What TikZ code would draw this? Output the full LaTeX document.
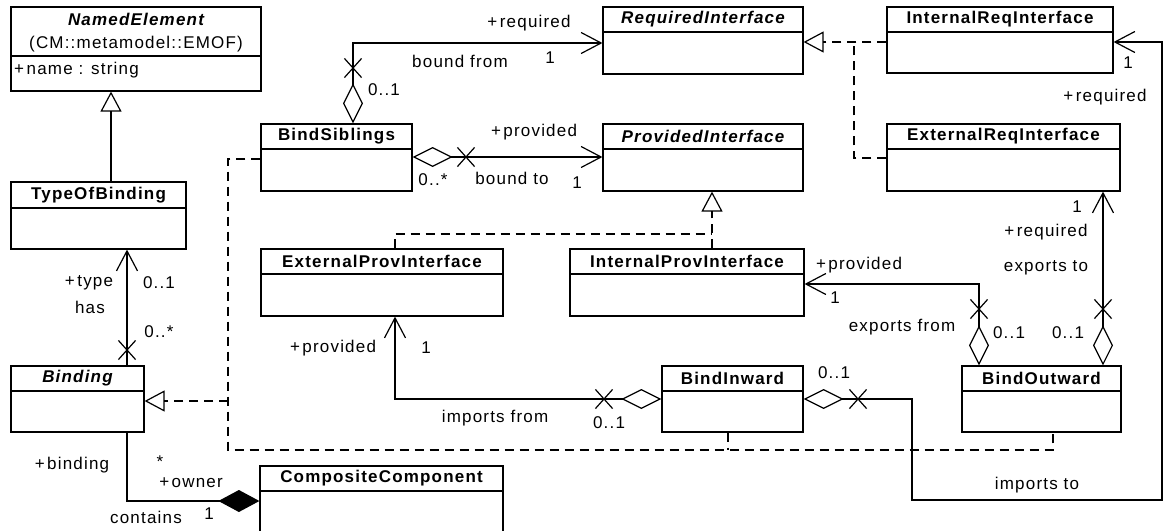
\documentclass[tikz,border=0pt]{standalone}
\usepackage{fontspec}
\setmainfont{Liberation Sans}
\newfontfamily\lblfont[LetterSpace=7]{Liberation Sans}
\usetikzlibrary{arrows.meta,fit,shapes.misc}
\tikzset{
  cls/.style={draw, line width=1.2pt, inner sep=0pt},
  lab/.style={font=\lblfont\fontsize{17}{20}\selectfont, inner sep=0pt},
  ttl/.style={font=\lblfont\bfseries\fontsize{17}{20}\selectfont, inner sep=0pt},
  ln/.style={line width=1.2pt},
  nav/.style={ln, -{Straight Barb[length=20pt,width=21pt]}},
  agg/.style={ln, {Diamond[open,length=40pt,width=20pt]}-{Straight Barb[length=20pt,width=21pt]}},
  comp/.style={ln, -{Diamond[length=41pt,width=22pt]}},
  gen/.style={ln, -{Triangle[open,length=20pt,width=21pt]}},
  dsh/.style={ln, dash pattern=on 9pt off 6pt},
  real/.style={dsh, -{Triangle[open,length=20pt,width=21pt]}},
  xm/.style={cross out, draw, line width=1.2pt, minimum width=16pt, minimum height=18pt, inner sep=0pt},
  xmh/.style={cross out, draw, line width=1.2pt, minimum width=16pt, minimum height=18pt, inner sep=0pt},
}
\newcommand\umlbox[7]{%
  \node[cls, fit={(#2,#3) (#4,#5)}] (#1) {};
  \draw[ln] (#1.west |- 0,#6) -- (#1.east |- 0,#6);
  \node[ttl] (#1-t) at ({(#2+#4)/2},{(#3+#6)/2}) {#7};
}
\newcommand\pl{+\kern2.5pt}
\begin{document}
\begin{tikzpicture}[x=1pt,y=-1pt]
\fill[white] (0,0) rectangle (1164,530);
\clip (0,0) rectangle (1164,530);
% classes
\node[cls, fit={(11,7) (261,91)}] (ne) {};
\draw[ln] (ne.west |- 0,56) -- (ne.east |- 0,56);
\node[ttl] (ne-t) at (136,19) {\itshape NamedElement};
\node[lab] (ne-p) at (136,44) {(CM::metamodel::EMOF)};
\node[lab, anchor=west] (ne-a) at (14,70) {\pl name : string};
\umlbox{tob}{11}{182}{186}{249}{208}{TypeOfBinding}
\umlbox{bind}{11}{366}{144}{432}{391}{\itshape Binding}
\umlbox{cc}{260}{466}{503}{560}{491}{CompositeComponent}
\umlbox{bs}{261}{124}{412}{191}{149}{BindSiblings}
\umlbox{ri}{603}{7}{803}{74}{32}{\itshape RequiredInterface}
\umlbox{pi}{603}{124}{803}{191}{149}{\itshape ProvidedInterface}
\umlbox{iri}{887}{7}{1113}{73}{32}{InternalReqInterface}
\umlbox{eri}{887}{124}{1120}{191}{149}{ExternalReqInterface}
\umlbox{epi}{261}{249}{503}{316}{274}{ExternalProvInterface}
\umlbox{ipi}{570}{249}{804}{316}{274}{InternalProvInterface}
\umlbox{bi}{662}{366}{803}{432}{391}{BindInward}
\umlbox{bo}{962}{366}{1121}{432}{391}{BindOutward}
% generalization
\draw[gen] (tob.north -| 111,0) -- (ne.south -| 111,0);
% Binding -> TypeOfBinding
\draw[nav] (bind.north -| 127,0) -- (tob.south -| 127,0);
\node[xm] (x1) at (127,350) {};
\node[lab] at (89,283) {\pl type};
\node[lab] at (90,307) {has};
\node[lab] at (159,283) {0..1};
\node[lab] at (159,332) {0..*};
% Binding -> CompositeComponent
\draw[comp] (bind.south -| 127,0) |- (cc.west |- 0,501);
\node[lab] at (72,465) {\pl binding};
\node[lab] at (160,462) {*};
\node[lab] at (191,483) {\pl owner};
\node[lab] at (146,517) {contains};
\node[lab] at (209,514) {1};
% BindSiblings -> RequiredInterface
\draw[agg] (bs.north -| 353,0) |- (ri.west |- 0,43);
\node[xm] (x2) at (353,68) {};
\node[lab] at (384,90) {0..1};
\node[lab] at (529,23) {\pl required};
\node[lab] at (460,61) {bound from};
\node[lab] at (550,58) {1};
% BindSiblings -> ProvidedInterface
\draw[agg] (bs.east |- 0,157) -- (pi.west |- 0,157);
\node[xmh] (x3) at (466,157) {};
\node[lab] at (534,132) {\pl provided};
\node[lab] at (512,178) {bound to};
\node[lab] at (577,183) {1};
\node[lab] at (433,180) {0..*};
% realizations of RequiredInterface
\draw[real] (iri.west |- 0,42) -- (ri.east |- 0,42);
\draw[dsh] (eri.west |- 0,158) -| (854,42);
% realizations of ProvidedInterface
\draw[real] (ipi.north -| 712,0) -- (pi.south -| 712,0);
\draw[dsh] (epi.north -| 395,0) |- (712,234);
% BindOutward -> InternalProvInterface
\draw[agg] (bo.north -| 979,0) |- (ipi.east |- 0,284);
\node[xm] (x4) at (979,309) {};
\node[lab] at (859,265) {\pl provided};
\node[lab] at (835,298) {1};
\node[lab] at (902,327) {exports from};
\node[lab] at (1009,333) {0..1};
% BindOutward -> ExternalReqInterface
\draw[agg] (bo.north -| 1103,0) -- (eri.south -| 1103,0);
\node[xm] (x5) at (1103,309) {};
\node[lab] at (1077,207) {1};
\node[lab] at (1046,232) {\pl required};
\node[lab] at (1046,268) {exports to};
\node[lab] at (1068,333) {0..1};
% BindInward -> ExternalProvInterface
\draw[agg] (bi.west |- 0,399) -| (epi.south -| 395,0);
\node[xmh] (x6) at (604,399) {};
\node[lab] at (333,348) {\pl provided};
\node[lab] at (426,348) {1};
\node[lab] at (495,418) {imports from};
\node[lab] at (609,423) {0..1};
% BindInward -> InternalReqInterface
\draw[agg] (bi.east |- 0,399) -- (912,399) -- (912,500) -- (1162,500) -- (1162,42) -- (iri.east |- 0,42);
\node[xmh] (x7) at (858,399) {};
\node[lab] at (834,373) {0..1};
\node[lab] at (1037,485) {imports to};
\node[lab] at (1128,63) {1};
\node[lab] at (1105,97) {\pl required};
% realizations of Binding
\draw[real] (228,401) -- (bind.east |- 0,401);
\draw[dsh] (bs.west |- 0,159) -| (228,450) -| (bo.south -| 1053,0);
\draw[dsh] (bi.south -| 728,0) -- (728,450);
\end{tikzpicture}
\end{document}
